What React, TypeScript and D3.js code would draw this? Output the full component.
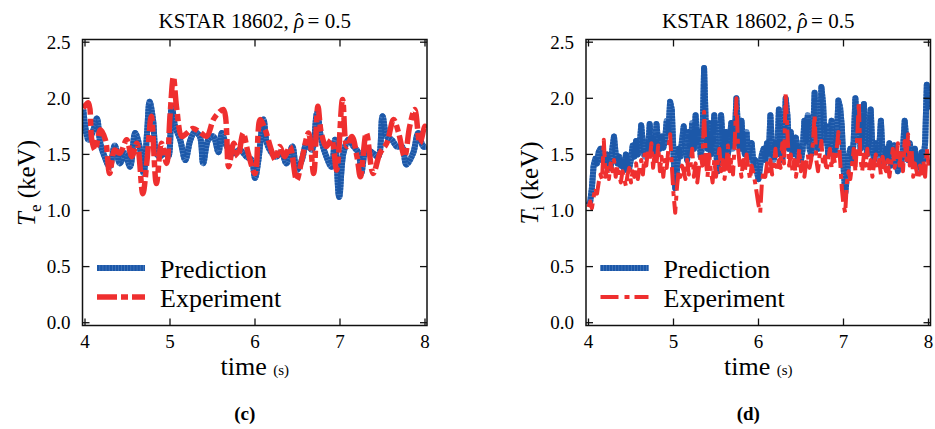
import * as d3 from "d3"

// KSTAR 18602, rho = 0.5 : electron temperature (c) and ion temperature (d)
// [time (s), T (keV)]

const predTe: [number, number][] = [
  [3.98, 1.90], [4.04, 1.63], [4.1, 1.72], [4.14, 1.82], [4.18, 1.60], [4.23, 1.48], [4.29, 1.39],
  [4.35, 1.58], [4.41, 1.42], [4.47, 1.51], [4.53, 1.39], [4.59, 1.69], [4.65, 1.54], [4.69, 1.33],
  [4.73, 1.69], [4.76, 1.97], [4.8, 1.81], [4.84, 1.51], [4.88, 1.48], [4.94, 1.52], [4.98, 1.48],
  [5.02, 1.93], [5.06, 1.75], [5.12, 1.63], [5.18, 1.45], [5.24, 1.63], [5.29, 1.70], [5.35, 1.66],
  [5.39, 1.42], [5.45, 1.63], [5.51, 1.66], [5.57, 1.52], [5.61, 1.69], [5.67, 1.57], [5.75, 1.51],
  [5.82, 1.54], [5.9, 1.48], [5.96, 1.45], [6.0, 1.29], [6.04, 1.45], [6.1, 1.81], [6.14, 1.60],
  [6.2, 1.51], [6.25, 1.48], [6.31, 1.52], [6.37, 1.42], [6.44, 1.57], [6.49, 1.36], [6.55, 1.45],
  [6.61, 1.60], [6.67, 1.54], [6.73, 1.87], [6.78, 1.63], [6.84, 1.48], [6.9, 1.39], [6.94, 1.63],
  [6.99, 1.12], [7.04, 1.51], [7.1, 1.63], [7.16, 1.57], [7.22, 1.51], [7.25, 1.33], [7.31, 1.54],
  [7.39, 1.51], [7.45, 1.48], [7.5, 1.84], [7.55, 1.66], [7.61, 1.63], [7.67, 1.57], [7.73, 1.57],
  [7.78, 1.41], [7.86, 1.51], [7.92, 1.69], [7.98, 1.57], [8.02, 1.57]
]

const expTe: [number, number][] = [
  [3.98, 1.91], [4.04, 1.96], [4.08, 1.63], [4.12, 1.54], [4.18, 1.72], [4.24, 1.63], [4.29, 1.33],
  [4.35, 1.54], [4.41, 1.51], [4.49, 1.63], [4.55, 1.48], [4.61, 1.60], [4.68, 1.15], [4.73, 1.45],
  [4.78, 1.84], [4.84, 1.24], [4.9, 1.60], [4.96, 1.42], [5.0, 1.84], [5.04, 2.19], [5.08, 1.90],
  [5.14, 1.66], [5.2, 1.69], [5.27, 1.73], [5.35, 1.70], [5.43, 1.66], [5.51, 1.81], [5.57, 1.87],
  [5.63, 1.90], [5.69, 1.39], [5.75, 1.60], [5.8, 1.48], [5.86, 1.69], [5.92, 1.51], [6.0, 1.33],
  [6.06, 1.81], [6.12, 1.72], [6.18, 1.57], [6.24, 1.45], [6.29, 1.57], [6.35, 1.48], [6.41, 1.57],
  [6.49, 1.27], [6.55, 1.45], [6.63, 1.69], [6.69, 1.33], [6.74, 1.93], [6.78, 1.69], [6.84, 1.57],
  [6.9, 1.63], [6.96, 1.36], [7.03, 1.99], [7.08, 1.57], [7.14, 1.66], [7.2, 1.48], [7.24, 1.30],
  [7.31, 1.69], [7.39, 1.33], [7.47, 1.51], [7.55, 1.60], [7.63, 1.81], [7.69, 1.69], [7.76, 1.48],
  [7.82, 1.75], [7.88, 1.90], [7.94, 1.60], [8.0, 1.75], [8.02, 1.72]
]

const predTi: [number, number][] = [
  [4.00, 1.05], [4.02, 1.08], [4.04, 1.20], [4.06, 1.40], [4.08, 1.46], [4.10, 1.42], [4.12, 1.52],
  [4.14, 1.55], [4.16, 1.45], [4.18, 1.48], [4.20, 1.40], [4.22, 1.50], [4.24, 1.42], [4.26, 1.38],
  [4.28, 1.55], [4.30, 1.66], [4.32, 1.50], [4.34, 1.42], [4.36, 1.48], [4.38, 1.40], [4.40, 1.44],
  [4.42, 1.36], [4.44, 1.50], [4.46, 1.42], [4.48, 1.38], [4.50, 1.46], [4.52, 1.58], [4.54, 1.48],
  [4.56, 1.62], [4.58, 1.50], [4.60, 1.55], [4.62, 1.76], [4.64, 1.60], [4.66, 1.48], [4.68, 1.62],
  [4.70, 1.52], [4.72, 1.77], [4.74, 1.58], [4.76, 1.65], [4.78, 1.50], [4.80, 1.77], [4.82, 1.60],
  [4.84, 1.55], [4.86, 1.66], [4.88, 1.56], [4.90, 1.62], [4.92, 1.80], [4.94, 1.70], [4.96, 1.97],
  [4.98, 1.90], [5.00, 1.50], [5.02, 1.20], [5.04, 1.35], [5.06, 1.55], [5.08, 1.48], [5.10, 1.62],
  [5.12, 1.75], [5.14, 1.55], [5.16, 1.45], [5.18, 1.70], [5.20, 1.50], [5.22, 1.78], [5.24, 1.55],
  [5.26, 1.85], [5.28, 1.62], [5.30, 1.70], [5.32, 1.48], [5.34, 1.60], [5.36, 2.27], [5.38, 1.75],
  [5.40, 1.55], [5.42, 1.78], [5.44, 1.50], [5.46, 1.60], [5.48, 1.85], [5.50, 1.55], [5.52, 1.35],
  [5.54, 1.58], [5.56, 1.85], [5.58, 1.60], [5.60, 1.45], [5.62, 1.70], [5.64, 1.50], [5.66, 1.62],
  [5.68, 1.78], [5.70, 1.55], [5.72, 1.65], [5.74, 2.00], [5.76, 1.70], [5.78, 1.55], [5.80, 1.80],
  [5.82, 1.58], [5.84, 1.50], [5.86, 1.70], [5.88, 1.45], [5.90, 1.55], [5.92, 1.60], [5.94, 1.42],
  [5.96, 1.45], [5.98, 1.35], [6.00, 1.28], [6.02, 1.40], [6.04, 1.50], [6.06, 1.55], [6.08, 1.45],
  [6.10, 1.60], [6.12, 1.48], [6.14, 1.85], [6.16, 1.55], [6.18, 1.45], [6.20, 1.60], [6.22, 1.50],
  [6.24, 1.90], [6.26, 1.55], [6.28, 1.45], [6.30, 1.62], [6.32, 2.00], [6.34, 1.85], [6.36, 1.55],
  [6.38, 1.70], [6.40, 1.50], [6.42, 1.58], [6.44, 1.65], [6.46, 1.48], [6.48, 1.60], [6.50, 1.45],
  [6.52, 1.55], [6.54, 1.80], [6.56, 1.62], [6.58, 1.85], [6.60, 1.55], [6.62, 1.50], [6.64, 1.62],
  [6.66, 2.05], [6.68, 1.70], [6.70, 1.55], [6.72, 1.62], [6.74, 2.10], [6.76, 1.95], [6.78, 1.60],
  [6.80, 1.75], [6.82, 1.50], [6.84, 1.62], [6.86, 1.80], [6.88, 1.58], [6.90, 1.50], [6.92, 1.65],
  [6.94, 1.98], [6.96, 1.92], [6.98, 1.75], [7.00, 1.40], [7.02, 1.15], [7.04, 1.30], [7.06, 1.48],
  [7.08, 1.55], [7.10, 1.45], [7.12, 1.62], [7.14, 2.00], [7.16, 1.70], [7.18, 1.85], [7.20, 1.55],
  [7.22, 1.65], [7.24, 1.95], [7.26, 1.60], [7.28, 1.50], [7.30, 1.62], [7.32, 1.90], [7.34, 1.55],
  [7.36, 1.45], [7.38, 1.60], [7.40, 1.48], [7.42, 1.55], [7.44, 1.80], [7.46, 1.50], [7.48, 1.42],
  [7.50, 1.55], [7.52, 1.45], [7.54, 1.60], [7.56, 1.40], [7.58, 1.52], [7.60, 1.58], [7.62, 1.45],
  [7.64, 1.35], [7.66, 1.50], [7.68, 1.42], [7.70, 1.55], [7.72, 1.80], [7.74, 1.62], [7.76, 1.45],
  [7.78, 1.60], [7.80, 1.50], [7.82, 1.42], [7.84, 1.55], [7.86, 1.40], [7.88, 1.48], [7.90, 1.36],
  [7.92, 1.52], [7.94, 1.45], [7.96, 1.60], [7.98, 2.12], [8.00, 1.90]
]

const expTi: [number, number][] = [
  [4.00, 1.03], [4.02, 1.08], [4.04, 1.02], [4.06, 1.12], [4.08, 1.20], [4.10, 1.15], [4.12, 1.25],
  [4.14, 1.32], [4.16, 1.28], [4.18, 1.63], [4.20, 1.30], [4.22, 1.38], [4.24, 1.28], [4.26, 1.42],
  [4.28, 1.35], [4.30, 1.45], [4.32, 1.30], [4.34, 1.40], [4.36, 1.33], [4.38, 1.25], [4.40, 1.35],
  [4.42, 1.28], [4.44, 1.22], [4.46, 1.32], [4.48, 1.38], [4.50, 1.25], [4.52, 1.35], [4.54, 1.30],
  [4.56, 1.42], [4.58, 1.28], [4.60, 1.38], [4.62, 1.45], [4.64, 1.32], [4.66, 1.50], [4.68, 1.40],
  [4.70, 1.55], [4.72, 1.45], [4.74, 1.60], [4.76, 1.38], [4.78, 1.52], [4.80, 1.42], [4.82, 1.58],
  [4.84, 1.35], [4.86, 1.48], [4.88, 1.30], [4.90, 1.45], [4.92, 1.38], [4.94, 1.55], [4.96, 1.68],
  [4.98, 1.40], [5.00, 1.15], [5.02, 0.98], [5.04, 1.20], [5.06, 1.35], [5.08, 1.30], [5.10, 1.40],
  [5.12, 1.35], [5.14, 1.28], [5.16, 1.45], [5.18, 1.32], [5.20, 1.40], [5.22, 1.55], [5.24, 1.30],
  [5.26, 1.42], [5.28, 1.25], [5.30, 1.38], [5.32, 1.50], [5.34, 1.40], [5.36, 1.88], [5.38, 1.45],
  [5.40, 1.30], [5.42, 1.50], [5.44, 1.35], [5.46, 1.25], [5.48, 1.45], [5.50, 1.30], [5.52, 1.42],
  [5.54, 1.55], [5.56, 1.35], [5.58, 1.45], [5.60, 1.28], [5.62, 1.40], [5.64, 1.58], [5.66, 1.35],
  [5.68, 1.45], [5.70, 1.32], [5.72, 1.60], [5.74, 2.00], [5.76, 1.55], [5.78, 1.40], [5.80, 1.30],
  [5.82, 1.45], [5.84, 1.35], [5.86, 1.50], [5.88, 1.38], [5.90, 1.28], [5.92, 1.40], [5.94, 1.33],
  [5.96, 1.25], [5.98, 1.15], [6.00, 1.05], [6.02, 0.98], [6.04, 1.25], [6.06, 1.35], [6.08, 1.30],
  [6.10, 1.42], [6.12, 1.35], [6.14, 1.45], [6.16, 1.32], [6.18, 1.40], [6.20, 1.55], [6.22, 1.35],
  [6.24, 1.45], [6.26, 1.38], [6.28, 1.60], [6.30, 1.42], [6.32, 2.05], [6.34, 1.70], [6.36, 1.40],
  [6.38, 1.50], [6.40, 1.35], [6.42, 1.45], [6.44, 1.30], [6.46, 1.40], [6.48, 1.55], [6.50, 1.35],
  [6.52, 1.45], [6.54, 1.30], [6.56, 1.42], [6.58, 1.50], [6.60, 1.38], [6.62, 1.45], [6.64, 1.60],
  [6.66, 1.85], [6.68, 1.45], [6.70, 1.35], [6.72, 1.50], [6.74, 1.62], [6.76, 1.40], [6.78, 1.48],
  [6.80, 1.35], [6.82, 1.45], [6.84, 1.55], [6.86, 1.38], [6.88, 1.50], [6.90, 1.42], [6.92, 1.55],
  [6.94, 1.70], [6.96, 1.45], [6.98, 1.20], [7.00, 1.05], [7.02, 0.98], [7.04, 1.25], [7.06, 1.35],
  [7.08, 1.28], [7.10, 1.40], [7.12, 1.55], [7.14, 1.35], [7.16, 1.62], [7.18, 1.97], [7.20, 1.45],
  [7.22, 1.35], [7.24, 1.50], [7.26, 1.40], [7.28, 1.55], [7.30, 1.35], [7.32, 1.45], [7.34, 1.30],
  [7.36, 1.42], [7.38, 1.50], [7.40, 1.38], [7.42, 1.45], [7.44, 1.32], [7.46, 1.48], [7.48, 1.40],
  [7.50, 1.35], [7.52, 1.45], [7.54, 1.30], [7.56, 1.42], [7.58, 1.55], [7.60, 1.38], [7.62, 1.45],
  [7.64, 1.60], [7.66, 1.40], [7.68, 1.55], [7.70, 1.35], [7.72, 1.62], [7.74, 1.45], [7.76, 1.68],
  [7.78, 1.40], [7.80, 1.55], [7.82, 1.30], [7.84, 1.42], [7.86, 1.35], [7.88, 1.28], [7.90, 1.40],
  [7.92, 1.33], [7.94, 1.45], [7.96, 1.30], [7.98, 1.55], [8.00, 1.40]
]

const xTicks = [4, 5, 6, 7, 8]
const yTicks = [0, 0.5, 1, 1.5, 2, 2.5]
const yTickLabels = ["0.0", "0.5", "1.0", "1.5", "2.0", "2.5"]
const legendNames = ["Prediction", "Experiment"]

const BLUE = "#1c58a9"
const BLUE_LIGHT = "#5f8cc8"
const RED = "#ef2f2f"
const FONT = '"Liberation Serif", "DejaVu Serif", Tinos, "Noto Serif", "Times New Roman", Times, serif'
const txt = { fontFamily: FONT }

type PanelProps = {
  fl: number
  sub: string
  caption: string
  pred: [number, number][]
  exp: [number, number][]
  smooth: boolean
  redW: number
  id: string
}

function Panel({ fl, sub, caption, pred, exp, smooth, redW, id }: PanelProps) {
  const fr = fl + 344.5
  const ft = 39.5
  const fb = 325.5
  const x = d3.scaleLinear().domain([4, 8]).range([fl + 2.5, fl + 342.5])
  const y = d3.scaleLinear().domain([0, 2.5]).range([322.7, 42.2])
  const line = d3.line<[number, number]>()
    .x(d => x(d[0]))
    .y(d => y(d[1]))
    .curve(smooth ? d3.curveCatmullRom : d3.curveLinear)
  const cx = (fl + fr) / 2
  const tk = 7
  const redDash = smooth ? "20,4,7,4" : "18,6,5,5"
  const blueDash = "2.6,0.5"

  return (
    <g>
      <defs>
        <clipPath id={id}>
          <rect x={fl} y={ft} width={fr - fl} height={fb - ft} />
        </clipPath>
      </defs>
      <text x={cx} y={28} textAnchor="middle" fontSize={21} style={txt}>
        KSTAR 18602, <tspan fontStyle="italic">ρ</tspan>
        <tspan dx="-0.42em" dy="-0.02em">ˆ</tspan>
        <tspan dy="0.02em"> = 0.5</tspan>
      </text>

      <g clipPath={`url(#${id})`}>
        <path d={line(pred) || ""} fill="none" stroke={BLUE_LIGHT} strokeWidth={6} strokeLinejoin="round" />
        <path d={line(pred) || ""} fill="none" stroke={BLUE} strokeWidth={6}
          strokeDasharray={blueDash} strokeLinejoin="round" />
        <path d={line(exp) || ""} fill="none" stroke={RED} strokeWidth={redW}
          strokeDasharray={redDash} strokeLinejoin="round" />
      </g>

      {/* frame and inward ticks */}
      <rect x={fl} y={ft} width={fr - fl} height={fb - ft} fill="none" stroke="#111" strokeWidth={1.5} />
      {yTicks.map((v, i) => (
        <g key={"y" + i}>
          <line x1={fl} x2={fl + tk} y1={y(v)} y2={y(v)} stroke="#111" strokeWidth={1.3} />
          <line x1={fr} x2={fr - tk} y1={y(v)} y2={y(v)} stroke="#111" strokeWidth={1.3} />
          <text x={fl - 12} y={y(v)} dy="0.35em" textAnchor="end" fontSize={19} style={txt}>
            {yTickLabels[i]}
          </text>
        </g>
      ))}
      {xTicks.map(v => (
        <g key={"x" + v}>
          <line x1={x(v)} x2={x(v)} y1={fb} y2={fb - tk} stroke="#111" strokeWidth={1.3} />
          <line x1={x(v)} x2={x(v)} y1={ft} y2={ft + tk} stroke="#111" strokeWidth={1.3} />
          <text x={x(v)} y={348} textAnchor="middle" fontSize={19} style={txt}>{v}</text>
        </g>
      ))}

      {/* axis labels */}
      <text x={cx} y={375} textAnchor="middle" style={txt}>
        <tspan fontSize={26}>time </tspan><tspan fontSize={15}>(s)</tspan>
      </text>
      <text transform={`translate(${fl - 48},183) rotate(-90)`} textAnchor="middle" fontSize={25} style={txt}>
        <tspan fontStyle="italic">T</tspan>
        <tspan fontSize={17} dy={6}>{sub}</tspan>
        <tspan dy={-6}> (keV)</tspan>
      </text>

      {/* legend */}
      <line x1={fl + 14.5} x2={fl + 62.5} y1={268} y2={268} stroke={BLUE_LIGHT} strokeWidth={6} />
      <line x1={fl + 14.5} x2={fl + 62.5} y1={268} y2={268} stroke={BLUE} strokeWidth={6} strokeDasharray={blueDash} />
      <line x1={fl + 14.5} x2={fl + 62.5} y1={297} y2={297} stroke={RED} strokeWidth={redW} strokeDasharray={redDash} />
      <text x={fl + 77.5} y={278} fontSize={26} style={txt}>{legendNames[0]}</text>
      <text x={fl + 77.5} y={307} fontSize={26} style={txt}>{legendNames[1]}</text>

      <text x={cx - 10} y={420} textAnchor="middle" fontSize={19} fontWeight="bold" style={txt}>
        {caption}
      </text>
    </g>
  )
}

export default function App() {
  return (
    <svg width={935} height={429} viewBox="0 0 935 429"
      style={{ position: "absolute", left: 0, top: 0, background: "#fff", fontFamily: FONT }}>
      <rect width={935} height={429} fill="#fff" />
      <Panel fl={82.5} sub="e" caption="(c)" pred={predTe} exp={expTe} smooth={true} redW={5.5} id="clipC" />
      <Panel fl={586} sub="i" caption="(d)" pred={predTi} exp={expTi} smooth={false} redW={4} id="clipD" />
    </svg>
  )
}
